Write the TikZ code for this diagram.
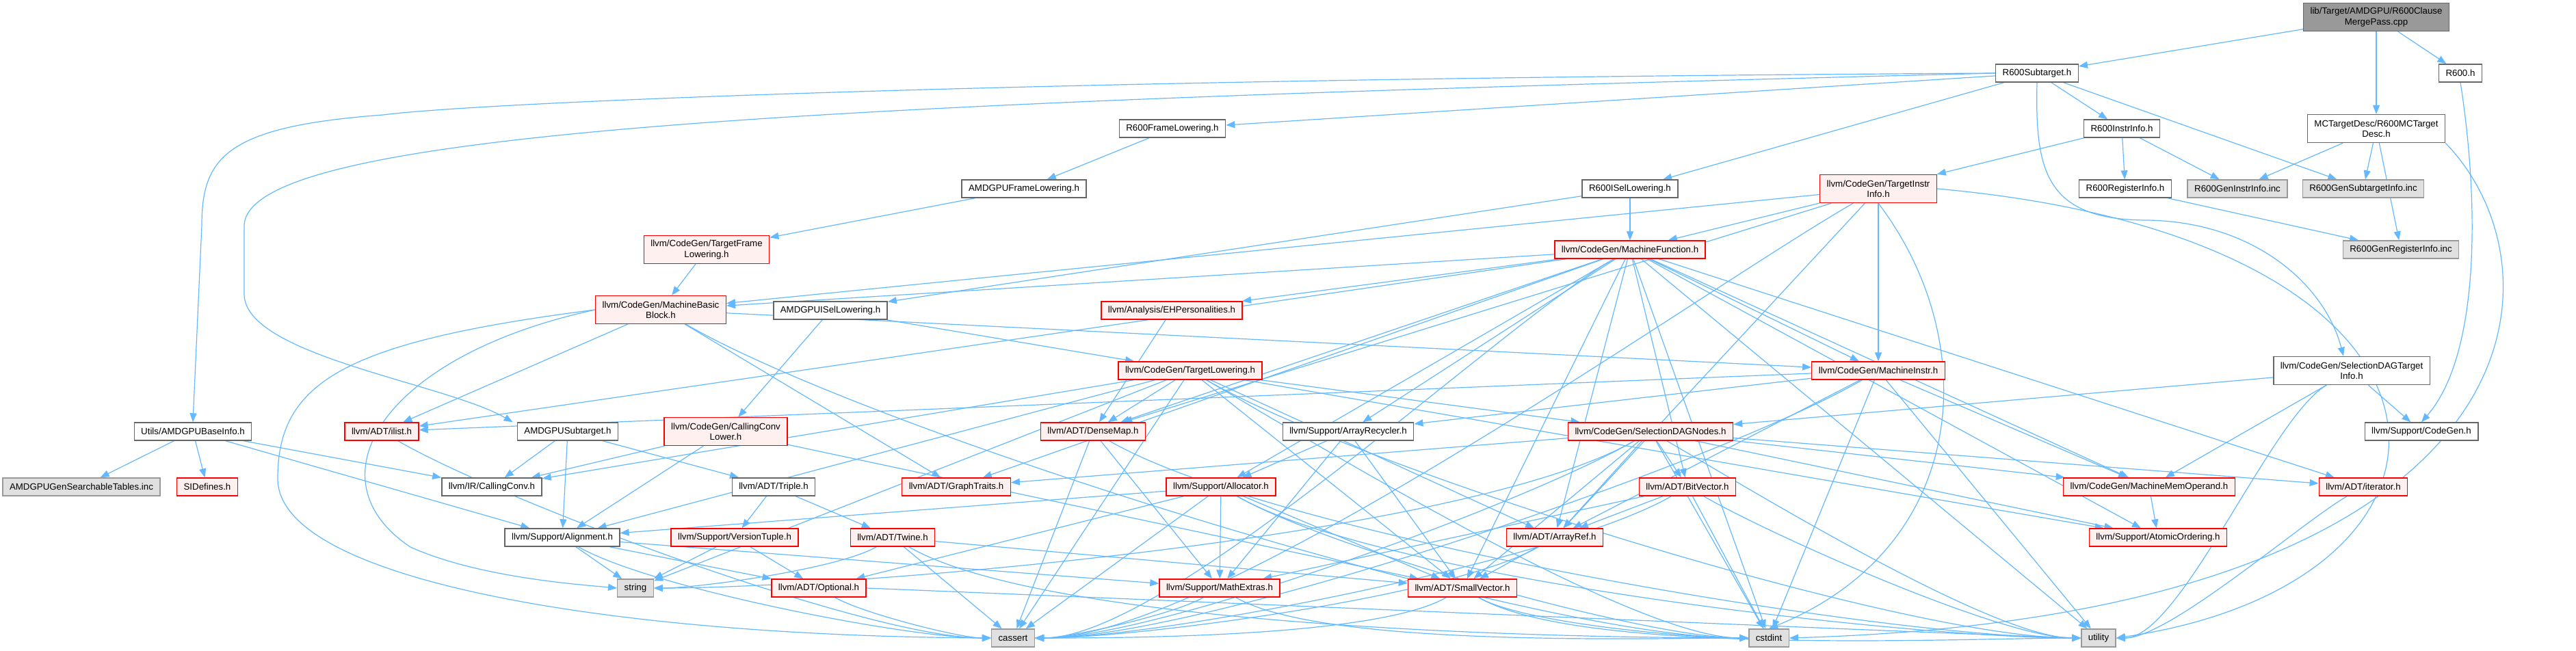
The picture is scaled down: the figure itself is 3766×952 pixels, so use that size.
\documentclass[tikz,border=0pt]{standalone}
\usepackage{fontspec}
\setmainfont{Liberation Sans}
\usetikzlibrary{arrows.meta}
\definecolor{edgec}{HTML}{63B8FF}
\definecolor{nbord}{HTML}{666666}
\definecolor{rbord}{HTML}{FF0000}
\definecolor{rfill}{HTML}{FFF0F0}
\definecolor{sfill}{HTML}{E0E0E0}
\definecolor{sbord}{HTML}{999999}
\definecolor{rootfill}{HTML}{999999}
\pgfdeclarelayer{bg}
\pgfsetlayers{bg,main}
\begin{document}
\begin{tikzpicture}[x=0.5pt,y=-0.5pt,
 base/.style={draw, rectangle, font=\fontsize{6.65pt}{7.6pt}\selectfont, inner xsep=5pt, inner ysep=1.5pt, minimum height=13pt, align=center, line width=0.7pt},
 nrm/.style={base, draw=nbord, fill=white},
 trunc/.style={base, draw=rbord, fill=rfill},
 sys/.style={base, draw=sbord, fill=sfill},
 rootn/.style={base, draw=nbord, fill=rootfill},
 tall/.style={minimum height=20.5pt},
 e/.style={draw=edgec, line width=0.6pt, -{Triangle[length=6.5pt,width=5pt]}},
]
\useasboundingbox (0,0) rectangle (3766,952);
% rank 0-1
\node[rootn,tall] (root) at (3474,25) {lib/Target/AMDGPU/R600Clause\\MergePass.cpp};
\node[nrm] (r600sub) at (2978,107) {R600Subtarget.h};
\node[nrm] (r600h) at (3597,107) {R600.h};
% rank 2
\node[nrm] (r600fl) at (1714,188) {R600FrameLowering.h};
\node[nrm] (r600ii) at (3102,188) {R600InstrInfo.h};
\node[nrm,tall] (mctd) at (3474,188) {MCTargetDesc/R600MCTarget\\Desc.h};
% rank 3
\node[nrm] (amdgpufl) at (1497,276) {AMDGPUFrameLowering.h};
\node[nrm] (r600isel) at (2383,276) {R600ISelLowering.h};
\node[trunc,tall] (tii) at (2746,276) {llvm/CodeGen/TargetInstr\\Info.h};
\node[nrm] (r600ri) at (3107,276) {R600RegisterInfo.h};
\node[sys] (genii) at (3271,276) {R600GenInstrInfo.inc};
\node[sys] (gensti) at (3455,276) {R600GenSubtargetInfo.inc};
% rank 4
\node[trunc,tall] (tfl) at (1033,365) {llvm/CodeGen/TargetFrame\\Lowering.h};
\node[trunc] (mf) at (2383,365) {llvm/CodeGen/MachineFunction.h};
\node[sys] (genri) at (3510,365) {R600GenRegisterInfo.inc};
% rank 5
\node[trunc,tall] (mbb) at (966,453) {llvm/CodeGen/MachineBasic\\Block.h};
\node[nrm] (amdisel) at (1214,454) {AMDGPUISelLowering.h};
\node[trunc] (ehp) at (1713,454) {llvm/Analysis/EHPersonalities.h};
% rank 6
\node[trunc] (tl) at (1740,542) {llvm/CodeGen/TargetLowering.h};
\node[trunc] (mi) at (2746,542) {llvm/CodeGen/MachineInstr.h};
\node[nrm,tall] (sdti) at (3438,542) {llvm/CodeGen/SelectionDAGTarget\\Info.h};
% rank 7
\node[nrm] (basei) at (282,631) {Utils/AMDGPUBaseInfo.h};
\node[trunc] (ilist) at (558,631) {llvm/ADT/ilist.h};
\node[nrm] (amdsub) at (830,631) {AMDGPUSubtarget.h};
\node[trunc,tall] (ccl) at (1061,631) {llvm/CodeGen/CallingConv\\Lower.h};
\node[trunc] (dm) at (1598,631) {llvm/ADT/DenseMap.h};
\node[nrm] (arec) at (1971,631) {llvm/Support/ArrayRecycler.h};
\node[trunc] (sdn) at (2413,631) {llvm/CodeGen/SelectionDAGNodes.h};
\node[nrm] (cg) at (3540,631) {llvm/Support/CodeGen.h};
% rank 8
\node[sys] (gst) at (119,712) {AMDGPUGenSearchableTables.inc};
\node[trunc] (sid) at (303,712) {SIDefines.h};
\node[nrm] (cc) at (719,712) {llvm/IR/CallingConv.h};
\node[nrm] (triple) at (1131,712) {llvm/ADT/Triple.h};
\node[trunc] (gt) at (1398,712) {llvm/ADT/GraphTraits.h};
\node[trunc] (alloc) at (1785,712) {llvm/Support/Allocator.h};
\node[trunc] (bv) at (2467,712) {llvm/ADT/BitVector.h};
\node[trunc] (mmo) at (3142,712) {llvm/CodeGen/MachineMemOperand.h};
\node[trunc] (iter) at (3455,712) {llvm/ADT/iterator.h};
% rank 9
\node[nrm] (align) at (822,786) {llvm/Support/Alignment.h};
\node[trunc] (vt) at (1074,786) {llvm/Support/VersionTuple.h};
\node[trunc] (twine) at (1305,786) {llvm/ADT/Twine.h};
\node[trunc] (aref) at (2273,786) {llvm/ADT/ArrayRef.h};
\node[trunc] (ao) at (3155,786) {llvm/Support/AtomicOrdering.h};
% rank 10
\node[sys] (str) at (929,860) {string};
\node[trunc] (opt) at (1197,860) {llvm/ADT/Optional.h};
\node[trunc] (mex) at (1783,860) {llvm/Support/MathExtras.h};
\node[trunc] (sv) at (2138,860) {llvm/ADT/SmallVector.h};
% rank 11
\node[sys] (cassert) at (1481,933) {cassert};
\node[sys] (cstdint) at (2586,933) {cstdint};
\node[sys] (utility) at (3068,933) {utility};

\begin{pgfonlayer}{bg}
% straight edges
\foreach \a/\b in {root/r600sub, root/mctd, root/r600h,
 r600sub/r600fl, r600sub/r600isel, r600sub/r600ii, r600sub/gensti,
 mctd/genii, mctd/gensti, mctd/genri,
 r600fl/amdgpufl, amdgpufl/tfl, tfl/mbb,
 r600isel/amdisel, r600isel/mf,
 r600ii/tii, r600ii/r600ri, r600ii/genii, r600ri/genri,
 tii/mf, tii/mbb, tii/mi, tii/dm, tii/aref,
 mf/aref, mf/bv, mf/dm, mf/gt, mf/sv, mf/ilist, mf/iter, mf/ehp, mf/mbb, mf/mi, mf/mmo, mf/alloc, mf/arec, mf/ao,
 mbb/gt, mbb/ilist, mbb/mi,
 mi/aref, mi/ilist, mi/mmo, mi/arec,
 amdisel/ccl, amdisel/tl, ehp/dm,
 tl/aref, tl/dm, tl/sv, tl/sdn, tl/cc, tl/align, tl/ao,
 sdti/sdn, sdti/mmo, sdti/cg,
 basei/sid, basei/cc, basei/align, basei/gst,
 amdsub/triple, amdsub/cc, amdsub/align,
 ccl/sv, ccl/cc, ccl/align,
 dm/mex, arec/sv, arec/alloc, arec/mex,
 sdn/aref, sdn/bv, sdn/gt, sdn/sv, sdn/iter, sdn/mmo, sdn/ao,
 alloc/opt, alloc/sv, alloc/align, alloc/mex,
 bv/aref, bv/mex, mmo/ao,
 triple/vt, triple/twine, vt/opt, twine/sv,
 align/mex, align/opt, aref/sv,
 tl/cassert, dm/cassert, alloc/cassert, twine/cassert,
 mf/cstdint, mi/cstdint, sdn/cstdint, bv/cstdint,
 mf/utility, mi/utility, vt/str, align/str, tl/str}
 { \draw[e] (\a) -- (\b); }
% entries from the right side
\foreach \a/\b in {tii/cassert, mf/cassert, mi/cassert, sdn/cassert, bv/cassert, aref/cassert, sv/cassert, mex/cassert,
 iter/utility, sdti/utility, twine/str, sdn/str}
 { \draw[e] (\a) to[out=-150,in=0,looseness=0.5] (\b.east); }
% entries from the left side
\foreach \a/\b in {ilist/cassert, align/cassert, opt/cassert,
 mbb/cstdint, tl/cstdint, alloc/cstdint, twine/cstdint, sv/cstdint, mex/cstdint,
 tl/utility, dm/utility, sdn/utility, alloc/utility, bv/utility, sv/utility}
 { \draw[e] (\a) to[out=-30,in=180,looseness=0.5] (\b.west); }
\draw[e] (opt.east) .. controls (2000,890) and (2800,925) .. (utility.west);
% curved long edges
\draw[e] (r600sub.west) .. controls (1500,115) and (700,150) .. (560,168) .. controls (330,185) and (295,230) .. (295,330) -- (basei.north);
\draw[e] (r600sub.west) .. controls (1200,150) and (360,190) .. (357,330) -- (357,430) .. controls (357,520) and (650,560) .. ([xshift=-3pt]amdsub.north west);
\draw[e] (r600sub.south) .. controls (2975,250) and (2990,322) .. (3140,322) .. controls (3300,325) and (3400,420) .. ([xshift=-6pt]sdti.north);
\draw[e] (r600h.south) .. controls (3625,300) and (3625,520) .. (cg.north);
\draw[e] (mctd.south east) .. controls (3760,400) and (3720,900) .. (cstdint.east);
\draw[e] (tii.east) .. controls (3660,350) and (3660,850) .. (utility.east);
\draw[e] (tii.south) .. controls (2900,500) and (2880,800) .. (cstdint.north);
\draw[e] (mbb.west) .. controls (500,500) and (406,560) .. (406,700) .. controls (406,850) and (900,930) .. (cassert.west);
\draw[e] (mbb.west) .. controls (560,520) and (450,700) .. (600,800) .. controls (700,845) and (850,855) .. (str.west);
\end{pgfonlayer}
\end{tikzpicture}
\end{document}
